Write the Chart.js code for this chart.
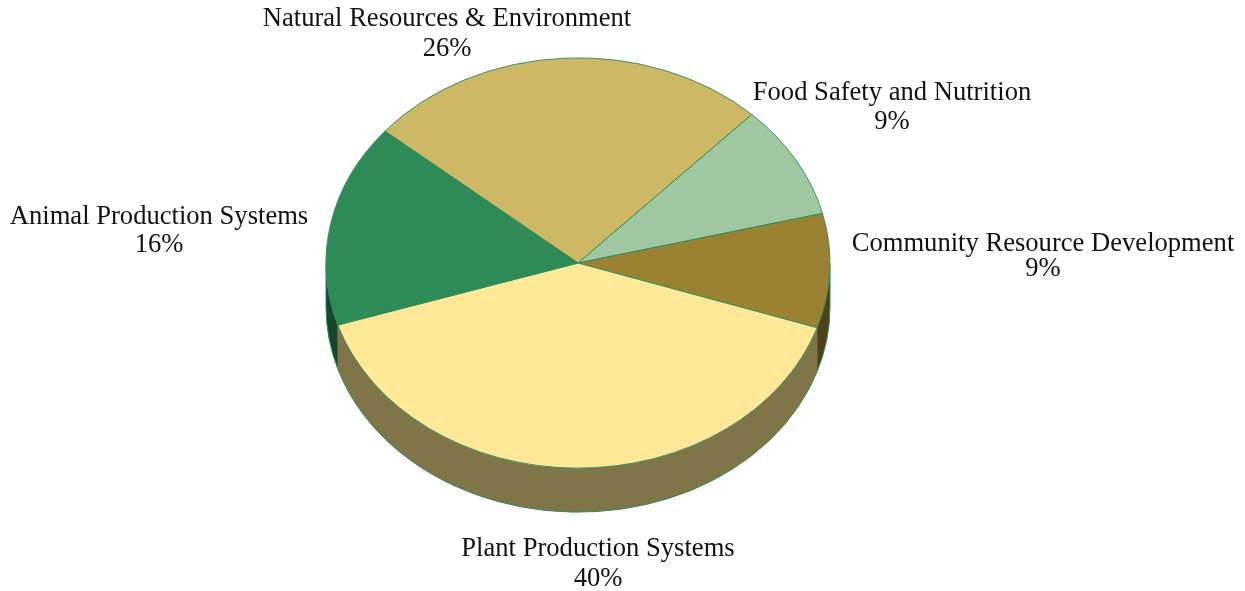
<!DOCTYPE html>
<html><head><meta charset="utf-8">
<style>html,body{margin:0;padding:0;background:#fff;overflow:hidden}#wrap{position:relative;width:1245px;height:591px}</style>
<script src="https://cdn.jsdelivr.net/npm/chart.js@4"></script>
</head><body><div id="wrap"><canvas id="c" width="1245" height="591"></canvas></div>
<script>
const categories = ['Natural Resources & Environment','Food Safety and Nutrition','Community Resource Development','Plant Production Systems','Animal Production Systems'];
const shares = [26, 9, 9, 40, 16];
const topColors = ['#CDB866','#A0C8A0','#9A8232','#FFE897','#2E8B57'];
const wallColors = ['#665C33','#506450','#4D4119','#807449','#17462C'];
const edgeColor = '#2E8B57';
const labelCentres = [[447,19,49],[892,93,122],[1043,244,269],[598,549,579],[159,217,245]];
const squash = 0.814, depth = 44, fontCss = '26.6px "Liberation Serif"';

function tilt(ctx, a){ ctx.translate(a.x, a.y); ctx.scale(1, squash); ctx.translate(-a.x, -a.y); }
const pie3d = {
  id:'pie3d',
  beforeDatasetsDraw(chart){
    const ctx = chart.ctx, arcs = chart.getDatasetMeta(0).data, o = arcs[0];
    const rx = o.outerRadius, ry = rx*squash, cx = o.x, cy = o.y;
    const segs = arcs.map((a,i)=>({i,s:a.startAngle,e:a.endAngle})).flatMap(g=>{
      const r=[]; for(const k of [-2,0,2]){const s=Math.max(g.s,k*Math.PI),e=Math.min(g.e,k*Math.PI+Math.PI); if(e>s) r.push({i:g.i,s:s,e:e});} return r;});
    ctx.save();
    for(const g of segs){
      ctx.beginPath();
      ctx.ellipse(cx,cy,rx,ry,0,g.s,g.e,false);
      ctx.ellipse(cx,cy+depth,rx,ry,0,g.e,g.s,true);
      ctx.closePath();
      ctx.fillStyle = wallColors[g.i]; ctx.fill();
    }
    for(const g of segs){
      ctx.beginPath();
      ctx.ellipse(cx,cy+depth,rx,ry,0,g.s,g.e,false);
      ctx.strokeStyle = edgeColor; ctx.lineWidth = 1; ctx.stroke();
    }
    ctx.beginPath(); ctx.moveTo(cx-rx,cy); ctx.lineTo(cx-rx,cy+depth); ctx.moveTo(cx+rx,cy); ctx.lineTo(cx+rx,cy+depth);
    ctx.strokeStyle = edgeColor; ctx.stroke();
    ctx.restore();
    ctx.save(); tilt(ctx,o);
  },
  afterDatasetsDraw(chart){
    const ctx = chart.ctx;
    ctx.restore();
    ctx.save();
    ctx.font = fontCss; ctx.fillStyle='#111'; ctx.textAlign='center'; ctx.textBaseline='middle';
    categories.forEach((n,i)=>{
      const [x,y1,y2] = labelCentres[i];
      ctx.fillText(n,x,y1); ctx.fillText(shares[i]+'%',x,y2);
    });
    ctx.restore();
  }
};
new Chart(document.getElementById('c'),{
  type:'pie',
  data:{labels:categories,datasets:[{data:shares,backgroundColor:topColors,borderColor:edgeColor,borderWidth:1,borderAlign:'center'}]},
  options:{responsive:false,animation:false,rotation:-50,
    layout:{padding:{left:0,right:89,top:10.5,bottom:75.5}},
    plugins:{legend:{display:false},tooltip:{enabled:false},title:{display:false}}},
  plugins:[pie3d]
});
</script></body></html>
